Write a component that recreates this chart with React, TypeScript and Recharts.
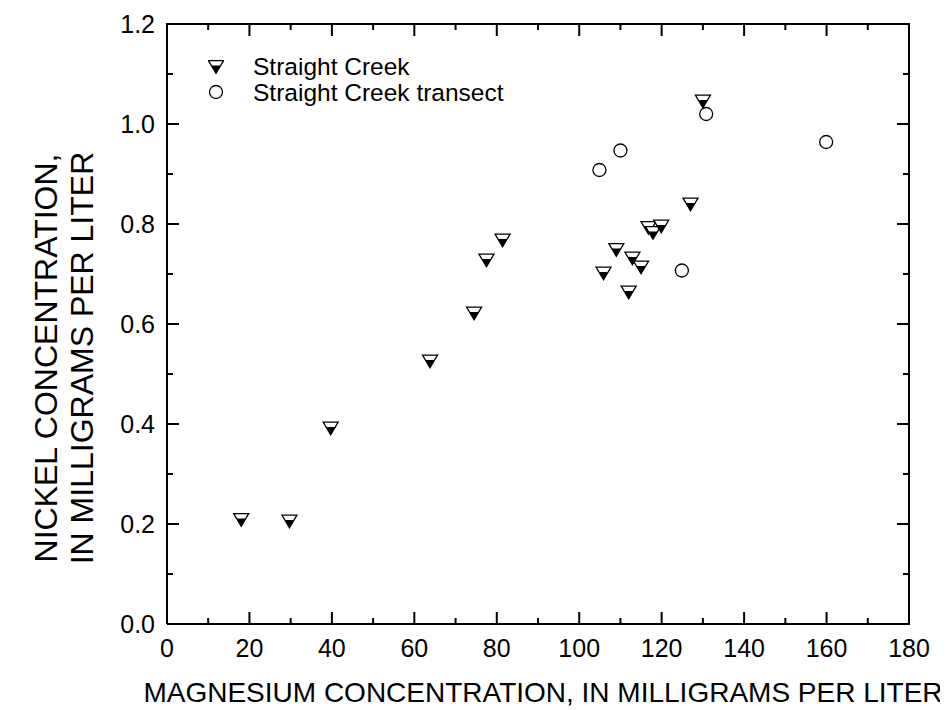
import { ScatterChart, Scatter, XAxis, YAxis, Legend } from 'recharts';

// Straight Creek samples (magnesium vs nickel, mg/L)
const creekMg = [18, 29.7, 39.7, 63.8, 74.5, 77.5, 81.4, 105.9, 109, 112, 112.9, 115, 116.8, 117.9, 119.9, 127, 130];
const creekNi = [0.208, 0.205, 0.391, 0.525, 0.621, 0.727, 0.767, 0.701, 0.748, 0.663, 0.731, 0.713, 0.792, 0.782, 0.795, 0.839, 1.045];

// Straight Creek transect samples
const transectMg = [104.9, 110, 124.9, 130.8, 159.9];
const transectNi = [0.908, 0.947, 0.707, 1.02, 0.964];

const xTicks = [0, 10, 20, 30, 40, 50, 60, 70, 80, 90, 100, 110, 120, 130, 140, 150, 160, 170, 180];
const yTicks = [0, 0.1, 0.2, 0.3, 0.4, 0.5, 0.6, 0.7, 0.8, 0.9, 1.0, 1.1, 1.2];

const seriesNames = ['Straight Creek', 'Straight Creek transect'];

const creekData = creekMg.map((mg, i) => ({ mg, ni: creekNi[i] }));
const transectData = transectMg.map((mg, i) => ({ mg, ni: transectNi[i] }));

const FONT = '"Liberation Sans", Arial, sans-serif';

// chart layout
const W = 940;
const H = 700;
const margin = { top: 16, right: 39, bottom: 54, left: 99 };
const X_AXIS_H = 30;
const Y_AXIS_W = 60;
const PLOT_W = W - margin.left - margin.right - Y_AXIS_W;
const PLOT_H = H - margin.top - margin.bottom - X_AXIS_H;
const X_MAX = xTicks[xTicks.length - 1];
const Y_MAX = yTicks[yTicks.length - 1];

const isMajorX = (v: number) => v % 20 === 0;
const isMajorY = (v: number) => Math.round(v * 10) % 2 === 0;

const HalfTriangle = ({ cx, cy }: any) => {
  if (cx == null || cy == null) return null;
  return (
    <g>
      <polygon points={`${cx - 7.5},${cy - 6.3} ${cx + 7.5},${cy - 6.3} ${cx},${cy + 6.3}`} fill="#fff" stroke="#000" strokeWidth={1.3} />
      <polygon points={`${cx - 4.6},${cy - 1.6} ${cx + 4.6},${cy - 1.6} ${cx},${cy + 6.3}`} fill="#000" />
    </g>
  );
};

const OpenCircle = ({ cx, cy }: any) => {
  if (cx == null || cy == null) return null;
  return <circle cx={cx} cy={cy} r={6.5} fill="#fff" stroke="#000" strokeWidth={1.3} />;
};

// bottom ticks also draw the mirrored top ticks (and the right frame edge at the last tick)
const BottomTick = ({ x, y, payload }: any) => {
  const v = payload.value;
  const len = isMajorX(v) ? 12 : 6;
  const top = y - PLOT_H;
  return (
    <g>
      <path d={`M${x},${y}V${y - len}M${x},${top}V${top + len}`} stroke="#000" strokeWidth={2} fill="none" />
      {v === X_MAX && <path d={`M${x},${y + 1}V${top - 1}`} stroke="#000" strokeWidth={2} fill="none" />}
      {isMajorX(v) && (
        <text x={x} y={y + 33} textAnchor="middle" fontSize={25} fontFamily={FONT} fill="#000">{v}</text>
      )}
    </g>
  );
};

// left ticks also draw the mirrored right ticks (and the top frame edge at the last tick)
const LeftTick = ({ x, y, payload }: any) => {
  const v = payload.value;
  const len = isMajorY(v) ? 12 : 6;
  const right = x + PLOT_W;
  return (
    <g>
      <path d={`M${x},${y}H${x + len}M${right},${y}H${right - len}`} stroke="#000" strokeWidth={2} fill="none" />
      {v === Y_MAX && <path d={`M${x - 1},${y}H${right + 1}`} stroke="#000" strokeWidth={2} fill="none" />}
      {isMajorY(v) && (
        <text x={x - 12} y={y + 9} textAnchor="end" fontSize={25} fontFamily={FONT} fill="#000">{v.toFixed(1)}</text>
      )}
    </g>
  );
};

const XTitle = ({ viewBox }: any) => (
  <text x={viewBox.x + viewBox.width / 2 + 5} y={694} textAnchor="middle" fontSize={28} fontFamily={FONT} fill="#000">
    MAGNESIUM CONCENTRATION, IN MILLIGRAMS PER LITER
  </text>
);

const YTitle = () => (
  <g transform="translate(0, 350) rotate(-90)">
    <text x={0} y={49} textAnchor="middle" fontSize={32} fontFamily={FONT} fill="#000">NICKEL CONCENTRATION,</text>
    <text x={0} y={85} textAnchor="middle" fontSize={32} fontFamily={FONT} fill="#000">IN MILLIGRAMS PER LITER</text>
  </g>
);

const LegendBox = () => (
  <div style={{ fontFamily: FONT, fontSize: 24.5, lineHeight: '25px', color: '#000' }}>
    {seriesNames.map((name, i) => (
      <div key={name} style={{ display: 'flex', alignItems: 'center', height: 25.5 }}>
        <svg width={16} height={16} style={{ marginRight: 29 }}>
          {i === 0 ? <HalfTriangle cx={8} cy={8} /> : <OpenCircle cx={8} cy={8} />}
        </svg>
        <span style={{ lineHeight: '25px' }}>{name}</span>
      </div>
    ))}
  </div>
);

export default function App() {
  return (
    <ScatterChart width={W} height={H} margin={margin}>
      <XAxis
        type="number"
        dataKey="mg"
        domain={[0, X_MAX]}
        ticks={xTicks}
        interval={0}
        height={X_AXIS_H}
        tickSize={0}
        tickMargin={0}
        tick={<BottomTick />}
        axisLine={{ stroke: '#000', strokeWidth: 2 }}
        label={<XTitle />}
      />
      <YAxis
        type="number"
        dataKey="ni"
        domain={[0, Y_MAX]}
        ticks={yTicks}
        interval={0}
        width={Y_AXIS_W}
        tickSize={0}
        tickMargin={0}
        tick={<LeftTick />}
        axisLine={{ stroke: '#000', strokeWidth: 2 }}
        label={<YTitle />}
      />
      <Legend
        layout="vertical"
        align="center"
        verticalAlign="middle"
        content={<LegendBox />}
        wrapperStyle={{ left: 200, top: 46, width: 'auto' }}
      />
      <Scatter name={seriesNames[0]} data={creekData} shape={<HalfTriangle />} isAnimationActive={false} />
      <Scatter name={seriesNames[1]} data={transectData} shape={<OpenCircle />} isAnimationActive={false} />
    </ScatterChart>
  );
}
